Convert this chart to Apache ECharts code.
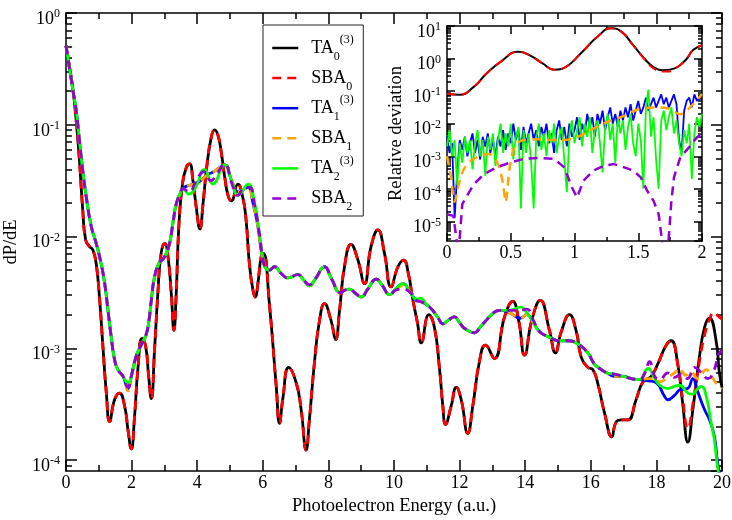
<!DOCTYPE html>
<html>
<head>
<meta charset="utf-8">
<script src="https://cdn.jsdelivr.net/npm/echarts@6/dist/echarts.min.js"></script>
<style>html,body{margin:0;padding:0;background:#fff}#c{width:732px;height:520px}</style>
</head>
<body>
<div id="c"></div>
<script>
// ---------- main panel data: [energy, dP/dE] ----------
const ta0 = [[0,0.51],[0.1,0.34],[0.21,0.21],[0.31,0.11],[0.41,0.048],[0.51,0.0174],[0.6,9.33e-3],[0.72,8.13e-3],[0.82,7.59e-3],[0.92,5.75e-3],[1.02,2.88e-3],[1.12,1.10e-3],[1.23,3.98e-4],[1.33,2.21e-4],[1.48,3.47e-4],[1.63,3.98e-4],[1.79,3.02e-4],[1.89,1.86e-4],[1.99,1.26e-4],[2.09,2.45e-4],[2.19,6.46e-4],[2.32,1.23e-3],[2.43,1.04e-3],[2.52,5.62e-4],[2.6,3.55e-4],[2.7,9.77e-4],[2.8,3.09e-3],[2.9,7.08e-3],[3.01,8.71e-3],[3.11,6.61e-3],[3.21,3.09e-3],[3.29,1.45e-3],[3.36,3.09e-3],[3.44,1.23e-2],[3.55,2.95e-2],[3.67,4.17e-2],[3.77,4.47e-2],[3.87,3.16e-2],[3.98,1.74e-2],[4.08,1.17e-2],[4.18,2.0e-2],[4.29,4.17e-2],[4.43,7.76e-2],[4.53,9.0e-2],[4.64,7.94e-2],[4.74,5.5e-2],[4.84,3.39e-2],[4.94,2.34e-2],[5.04,2.09e-2],[5.24,2.95e-2],[5.39,2.24e-2],[5.49,1.41e-2],[5.59,5.75e-3],[5.7,3.31e-3],[5.77,2.88e-3],[5.85,3.8e-3],[5.95,6.61e-3],[6.02,7.08e-3],[6.2,2.51e-3],[6.41,4.57e-4],[6.51,2.14e-4],[6.61,3.55e-4],[6.79,6.76e-4],[7.02,4.9e-4],[7.17,2.82e-4],[7.32,1.23e-4],[7.42,2.29e-4],[7.58,7.76e-4],[7.73,1.78e-3],[7.88,2.51e-3],[8.08,1.78e-3],[8.22,1.2e-3],[8.34,2.19e-3],[8.49,5.37e-3],[8.69,8.51e-3],[8.9,6.17e-3],[9.1,3.8e-3],[9.3,8.13e-3],[9.51,1.15e-2],[9.71,7.08e-3],[9.91,3.55e-3],[10.12,5.37e-3],[10.29,6.17e-3],[10.45,4.47e-3],[10.56,2.88e-3],[10.72,1.66e-3],[10.83,1.12e-3],[11.06,2.0e-3],[11.23,1.55e-3],[11.39,6.46e-4],[11.49,3.02e-4],[11.57,2.09e-4],[11.74,3.02e-4],[11.9,4.47e-4],[12.05,3.47e-4],[12.25,1.74e-4],[12.4,3.02e-4],[12.61,7.76e-4],[12.79,1.07e-3],[13.06,8.13e-4],[13.37,1.91e-3],[13.62,2.63e-3],[13.8,1.78e-3],[13.98,8.71e-4],[14.2,1.78e-3],[14.46,2.69e-3],[14.74,1.45e-3],[14.92,9.12e-4],[15.1,1.41e-3],[15.35,2.0e-3],[15.55,1.45e-3],[15.71,8.32e-4],[15.91,6.76e-4],[16.06,6.46e-4],[16.21,4.9e-4],[16.42,2.63e-4],[16.64,1.62e-4],[16.77,2.19e-4],[16.93,2.29e-4],[17.13,2.29e-4],[17.38,3.47e-4],[17.59,5.01e-4],[17.84,5.62e-4],[18.04,7.24e-4],[18.3,1.07e-3],[18.45,1.17e-3],[18.65,7.24e-4],[18.8,3.24e-4],[18.96,1.45e-4],[19.11,2.82e-4],[19.31,8.32e-4],[19.47,1.55e-3],[19.62,1.86e-3],[19.82,1.17e-3],[19.92,6.03e-4],[20,4.47e-4]];

const sba0 = [[0,0.51],[0.1,0.34],[0.21,0.21],[0.31,0.11],[0.41,0.048],[0.51,0.0174],[0.6,9.33e-3],[0.72,8.13e-3],[0.82,7.59e-3],[0.92,5.75e-3],[1.02,2.88e-3],[1.12,1.10e-3],[1.23,3.98e-4],[1.33,2.21e-4],[1.48,3.47e-4],[1.63,3.98e-4],[1.79,3.02e-4],[1.89,1.86e-4],[1.99,1.26e-4],[2.09,2.45e-4],[2.19,6.46e-4],[2.32,1.23e-3],[2.43,1.04e-3],[2.52,5.62e-4],[2.6,3.55e-4],[2.7,9.77e-4],[2.8,3.09e-3],[2.9,7.08e-3],[3.01,8.71e-3],[3.11,6.61e-3],[3.21,3.09e-3],[3.29,1.45e-3],[3.36,3.09e-3],[3.44,1.23e-2],[3.55,2.95e-2],[3.67,4.17e-2],[3.77,4.47e-2],[3.87,3.16e-2],[3.98,1.74e-2],[4.08,1.17e-2],[4.18,2.0e-2],[4.29,4.17e-2],[4.43,7.76e-2],[4.53,9.0e-2],[4.64,7.94e-2],[4.74,5.5e-2],[4.84,3.39e-2],[4.94,2.34e-2],[5.04,2.09e-2],[5.24,2.95e-2],[5.39,2.24e-2],[5.49,1.41e-2],[5.59,5.75e-3],[5.7,3.31e-3],[5.77,2.88e-3],[5.85,3.8e-3],[5.95,6.61e-3],[6.02,7.08e-3],[6.2,2.51e-3],[6.41,4.57e-4],[6.51,2.14e-4],[6.61,3.55e-4],[6.79,6.76e-4],[7.02,4.9e-4],[7.17,2.82e-4],[7.32,1.23e-4],[7.42,2.29e-4],[7.58,7.76e-4],[7.73,1.78e-3],[7.88,2.51e-3],[8.08,1.78e-3],[8.22,1.2e-3],[8.34,2.19e-3],[8.49,5.37e-3],[8.69,8.51e-3],[8.9,6.17e-3],[9.1,3.8e-3],[9.3,8.13e-3],[9.51,1.15e-2],[9.71,7.08e-3],[9.91,3.55e-3],[10.12,5.37e-3],[10.29,6.17e-3],[10.45,4.47e-3],[10.56,2.88e-3],[10.72,1.66e-3],[10.83,1.12e-3],[11.06,2.0e-3],[11.23,1.55e-3],[11.39,6.46e-4],[11.49,3.02e-4],[11.57,2.09e-4],[11.74,3.02e-4],[11.9,4.47e-4],[12.05,3.47e-4],[12.25,1.74e-4],[12.4,3.02e-4],[12.61,7.76e-4],[12.79,1.07e-3],[13.06,8.13e-4],[13.37,1.91e-3],[13.62,2.63e-3],[13.8,1.78e-3],[13.98,8.71e-4],[14.2,1.78e-3],[14.46,2.69e-3],[14.74,1.45e-3],[14.92,9.12e-4],[15.1,1.41e-3],[15.35,2.0e-3],[15.55,1.45e-3],[15.71,8.32e-4],[15.91,6.76e-4],[16.06,6.46e-4],[16.21,4.9e-4],[16.42,2.63e-4],[16.64,1.62e-4],[16.77,2.19e-4],[16.93,2.29e-4],[17.13,2.29e-4],[17.38,3.47e-4],[17.59,5.01e-4],[17.84,5.62e-4],[18.04,7.24e-4],[18.3,1.07e-3],[18.45,1.17e-3],[18.65,7.24e-4],[18.8,3.55e-4],[18.96,1.91e-4],[19.11,3.16e-4],[19.31,7.59e-4],[19.47,1.32e-3],[19.62,1.82e-3],[19.75,2.09e-3],[19.88,1.95e-3],[20,1.82e-3]];

const ta1 = [[0,0.51],[0.21,0.204],[0.31,0.135],[0.41,7.24e-2],[0.51,3.89e-2],[0.62,2.24e-2],[0.77,1.23e-2],[0.92,8.71e-3],[1.07,5.75e-3],[1.18,3.8e-3],[1.28,2.19e-3],[1.38,1.26e-3],[1.48,7.94e-4],[1.58,6.46e-4],[1.74,5.62e-4],[1.89,4.37e-4],[1.99,5.62e-4],[2.14,8.51e-4],[2.29,1.07e-3],[2.44,1.32e-3],[2.53,1.78e-3],[2.6,2.69e-3],[2.7,4.37e-3],[2.83,5.75e-3],[2.96,6.31e-3],[3.06,7.08e-3],[3.16,8.71e-3],[3.26,1.32e-2],[3.36,1.95e-2],[3.47,2.4e-2],[3.57,2.69e-2],[3.67,2.82e-2],[3.9,2.95e-2],[4.1,3.16e-2],[4.3,3.55e-2],[4.5,3.8e-2],[4.7,4.17e-2],[4.85,4.37e-2],[5.05,3.16e-2],[5.25,2.51e-2],[5.4,2.63e-2],[5.55,2.75e-2],[5.7,2.0e-2],[5.85,1.23e-2],[5.95,7.59e-3],[6.05,5.5e-3],[6.2,5.01e-3],[6.36,5.37e-3],[6.56,4.68e-3],[6.76,4.27e-3],[7.07,4.57e-3],[7.25,4.07e-3],[7.42,3.63e-3],[7.6,4.17e-3],[7.88,5.37e-3],[8.1,4.17e-3],[8.36,3.16e-3],[8.5,3.31e-3],[8.64,3.39e-3],[8.8,3.16e-3],[9.0,2.88e-3],[9.2,3.39e-3],[9.46,4.17e-3],[9.65,3.63e-3],[9.87,3.02e-3],[10.05,3.39e-3],[10.27,3.8e-3],[10.5,3.16e-3],[10.68,2.69e-3],[10.8,2.63e-3],[11.0,2.45e-3],[11.18,2.19e-3],[11.35,1.86e-3],[11.49,1.66e-3],[11.65,1.78e-3],[11.84,1.91e-3],[12.0,1.70e-3],[12.15,1.51e-3],[12.45,1.38e-3],[12.65,1.58e-3],[12.81,1.78e-3],[13.0,2.04e-3],[13.22,2.19e-3],[13.52,2.09e-3],[13.85,1.86e-3],[14.05,2.0e-3],[14.25,1.70e-3],[14.44,1.41e-3],[14.74,1.26e-3],[15.05,1.17e-3],[15.3,1.17e-3],[15.6,1.10e-3],[15.91,9.12e-4],[16.11,7.24e-4],[16.32,6.46e-4],[16.5,6.03e-4],[16.72,5.62e-4],[17.0,5.62e-4],[17.23,5.37e-4],[17.48,5.25e-4],[17.75,5.13e-4],[18.0,4.9e-4],[18.25,3.72e-4],[18.35,3.47e-4],[18.55,3.8e-4],[18.73,4.27e-4],[18.95,4.37e-4],[19.11,5.37e-4],[19.25,4.17e-4],[19.47,2.82e-4],[19.62,2.29e-4],[19.77,1.62e-4],[19.87,9.33e-5],[20,6.3e-5]];

const sba1 = [[0,0.51],[0.21,0.204],[0.31,0.135],[0.41,7.24e-2],[0.51,3.89e-2],[0.62,2.24e-2],[0.77,1.23e-2],[0.92,8.71e-3],[1.07,5.75e-3],[1.18,3.8e-3],[1.28,2.19e-3],[1.38,1.26e-3],[1.48,7.94e-4],[1.58,6.46e-4],[1.74,5.62e-4],[1.89,4.17e-4],[1.99,5.62e-4],[2.14,8.51e-4],[2.29,1.07e-3],[2.44,1.32e-3],[2.53,1.78e-3],[2.6,2.69e-3],[2.7,4.37e-3],[2.83,5.75e-3],[2.96,6.31e-3],[3.06,7.08e-3],[3.16,8.71e-3],[3.26,1.32e-2],[3.36,1.95e-2],[3.47,2.4e-2],[3.57,2.69e-2],[3.67,2.82e-2],[3.9,2.95e-2],[4.1,3.16e-2],[4.3,3.55e-2],[4.5,3.8e-2],[4.7,4.17e-2],[4.85,4.37e-2],[5.05,3.16e-2],[5.25,2.51e-2],[5.4,2.63e-2],[5.55,2.75e-2],[5.7,2.0e-2],[5.85,1.23e-2],[5.95,7.59e-3],[6.05,5.5e-3],[6.2,5.01e-3],[6.36,5.37e-3],[6.56,4.68e-3],[6.76,4.27e-3],[7.07,4.57e-3],[7.25,4.07e-3],[7.42,3.63e-3],[7.6,4.17e-3],[7.88,5.37e-3],[8.1,4.17e-3],[8.36,3.16e-3],[8.5,3.31e-3],[8.64,3.39e-3],[8.8,3.16e-3],[9.0,2.88e-3],[9.2,3.39e-3],[9.46,4.17e-3],[9.65,3.63e-3],[9.87,3.02e-3],[10.05,3.39e-3],[10.27,3.63e-3],[10.5,3.16e-3],[10.68,2.69e-3],[10.8,2.63e-3],[11.0,2.45e-3],[11.18,2.19e-3],[11.35,1.86e-3],[11.49,1.66e-3],[11.65,1.78e-3],[11.84,1.91e-3],[12.0,1.70e-3],[12.15,1.51e-3],[12.45,1.38e-3],[12.65,1.58e-3],[12.81,1.78e-3],[13.0,2.04e-3],[13.22,2.19e-3],[13.52,2.09e-3],[13.85,1.86e-3],[14.05,2.0e-3],[14.25,1.70e-3],[14.44,1.41e-3],[14.74,1.26e-3],[15.05,1.17e-3],[15.3,1.17e-3],[15.6,1.10e-3],[15.91,9.12e-4],[16.11,7.24e-4],[16.32,6.46e-4],[16.5,6.03e-4],[16.72,5.62e-4],[17.0,5.62e-4],[17.23,5.37e-4],[17.48,5.25e-4],[17.75,5.37e-4],[18.0,5.37e-4],[18.1,5.01e-4],[18.35,5.5e-4],[18.55,6.03e-4],[18.7,6.61e-4],[18.9,5.75e-4],[19.05,6.17e-4],[19.25,5.37e-4],[19.52,6.46e-4],[19.7,5.5e-4],[19.87,4.68e-4],[20,4.37e-4]];

const ta2 = [[0,0.51],[0.21,0.204],[0.31,0.135],[0.41,7.24e-2],[0.51,3.89e-2],[0.62,2.24e-2],[0.77,1.23e-2],[0.92,8.71e-3],[1.07,5.75e-3],[1.18,3.8e-3],[1.28,2.19e-3],[1.38,1.26e-3],[1.48,7.94e-4],[1.58,6.46e-4],[1.74,5.62e-4],[1.89,4.9e-4],[1.99,5.62e-4],[2.14,8.51e-4],[2.29,1.07e-3],[2.44,1.32e-3],[2.53,1.78e-3],[2.6,2.69e-3],[2.7,4.37e-3],[2.83,5.75e-3],[2.96,6.31e-3],[3.06,7.08e-3],[3.16,8.71e-3],[3.26,1.32e-2],[3.36,1.95e-2],[3.47,2.4e-2],[3.57,2.69e-2],[3.75,2.4e-2],[3.95,2.75e-2],[4.22,3.98e-2],[4.48,2.95e-2],[4.83,4.37e-2],[5.05,3.16e-2],[5.25,2.34e-2],[5.55,2.95e-2],[5.75,2.0e-2],[5.9,1.05e-2],[6.05,5.5e-3],[6.2,5.01e-3],[6.36,5.37e-3],[6.56,4.68e-3],[6.76,4.27e-3],[7.07,4.57e-3],[7.25,4.07e-3],[7.42,3.63e-3],[7.6,4.17e-3],[7.88,5.37e-3],[8.1,4.17e-3],[8.36,3.16e-3],[8.5,3.31e-3],[8.64,3.39e-3],[8.8,3.16e-3],[9.0,2.88e-3],[9.2,3.39e-3],[9.46,4.17e-3],[9.65,3.63e-3],[9.87,3.02e-3],[10.05,3.39e-3],[10.27,3.8e-3],[10.5,3.16e-3],[10.68,2.75e-3],[10.8,2.82e-3],[11.0,2.45e-3],[11.18,2.19e-3],[11.35,1.86e-3],[11.49,1.66e-3],[11.65,1.78e-3],[11.84,1.91e-3],[12.0,1.70e-3],[12.15,1.51e-3],[12.45,1.38e-3],[12.65,1.58e-3],[12.81,1.78e-3],[13.0,2.04e-3],[13.22,2.19e-3],[13.52,2.19e-3],[13.85,2.34e-3],[14.05,2.09e-3],[14.25,1.70e-3],[14.44,1.41e-3],[14.74,1.26e-3],[15.05,1.17e-3],[15.3,1.17e-3],[15.6,1.10e-3],[15.91,9.12e-4],[16.11,7.24e-4],[16.32,6.46e-4],[16.5,6.03e-4],[16.72,5.89e-4],[17.0,5.62e-4],[17.23,5.37e-4],[17.48,5.25e-4],[17.74,6.61e-4],[17.95,5.37e-4],[18.1,4.68e-4],[18.35,4.37e-4],[18.55,4.57e-4],[18.7,4.68e-4],[18.96,3.98e-4],[19.1,3.89e-4],[19.23,4.27e-4],[19.37,4.57e-4],[19.52,3.72e-4],[19.67,2.14e-4],[19.77,1.51e-4],[19.85,9.33e-5],[19.95,6.3e-5]];

const sba2 = [[0,0.51],[0.21,0.204],[0.31,0.135],[0.41,7.24e-2],[0.51,3.89e-2],[0.62,2.24e-2],[0.77,1.23e-2],[0.92,8.71e-3],[1.07,5.75e-3],[1.18,3.8e-3],[1.28,2.19e-3],[1.38,1.26e-3],[1.48,7.94e-4],[1.58,6.46e-4],[1.74,5.62e-4],[1.89,4.47e-4],[1.99,5.62e-4],[2.14,8.51e-4],[2.29,1.07e-3],[2.44,1.32e-3],[2.53,1.78e-3],[2.6,2.69e-3],[2.7,4.37e-3],[2.83,5.75e-3],[2.96,6.31e-3],[3.06,7.08e-3],[3.16,8.71e-3],[3.26,1.32e-2],[3.36,1.95e-2],[3.47,2.4e-2],[3.57,2.69e-2],[3.75,2.51e-2],[3.97,3.16e-2],[4.2,3.8e-2],[4.42,3.16e-2],[4.6,3.63e-2],[4.84,4.47e-2],[5.05,3.02e-2],[5.24,2.34e-2],[5.45,2.75e-2],[5.6,2.75e-2],[5.75,1.91e-2],[5.9,1.05e-2],[6.05,5.5e-3],[6.2,5.01e-3],[6.36,5.37e-3],[6.56,4.68e-3],[6.76,4.27e-3],[7.07,4.57e-3],[7.25,4.07e-3],[7.42,3.72e-3],[7.6,4.17e-3],[7.88,5.37e-3],[8.1,4.17e-3],[8.36,3.16e-3],[8.5,3.31e-3],[8.64,3.39e-3],[8.8,3.16e-3],[9.0,2.88e-3],[9.2,3.39e-3],[9.46,4.17e-3],[9.65,3.63e-3],[9.87,3.02e-3],[10.05,3.31e-3],[10.27,3.39e-3],[10.5,3.16e-3],[10.68,2.69e-3],[10.8,2.63e-3],[11.0,2.45e-3],[11.18,2.19e-3],[11.35,1.86e-3],[11.49,1.66e-3],[11.65,1.78e-3],[11.84,1.91e-3],[12.0,1.70e-3],[12.15,1.51e-3],[12.45,1.38e-3],[12.65,1.58e-3],[12.81,1.78e-3],[13.0,2.04e-3],[13.22,2.19e-3],[13.52,2.19e-3],[13.85,2.19e-3],[14.05,2.24e-3],[14.25,1.78e-3],[14.44,1.41e-3],[14.74,1.26e-3],[15.05,1.17e-3],[15.3,1.17e-3],[15.6,1.10e-3],[15.91,9.12e-4],[16.11,7.24e-4],[16.32,6.46e-4],[16.5,6.03e-4],[16.72,5.89e-4],[17.0,5.62e-4],[17.23,5.37e-4],[17.48,5.25e-4],[17.65,6.03e-4],[17.79,7.59e-4],[17.95,5.62e-4],[18.1,5.25e-4],[18.35,6.03e-4],[18.55,5.5e-4],[18.75,5.89e-4],[18.95,5.37e-4],[19.16,6.76e-4],[19.35,6.17e-4],[19.57,5.37e-4],[19.75,6.31e-4],[19.9,8.91e-4],[20,9.55e-4]];

// ---------- inset data: relative deviation ----------
const devTA0 = [[0,0.083],[0.1,0.078],[0.21,0.135],[0.31,0.347],[0.42,0.794],[0.56,1.62],[0.65,1.26],[0.75,0.708],[0.84,0.457],[0.93,0.55],[1.05,1.45],[1.18,4.68],[1.29,8.51],[1.37,6.61],[1.46,2.57],[1.56,0.891],[1.62,0.55],[1.69,0.437],[1.78,0.49],[1.87,0.891],[1.93,1.82],[2.0,2.57]];
const devSBA0 = [[0,0.083],[0.1,0.078],[0.21,0.135],[0.31,0.347],[0.42,0.794],[0.56,1.62],[0.65,1.26],[0.75,0.708],[0.84,0.457],[0.93,0.55],[1.05,1.45],[1.18,4.68],[1.29,8.51],[1.37,6.61],[1.46,2.57],[1.56,0.851],[1.62,0.50],[1.69,0.398],[1.73,0.40],[1.78,0.468],[1.87,0.891],[1.93,1.82],[2.0,2.57]];
const devX = [0,0.02,0.04,0.06,0.08,0.1,0.12,0.14,0.16,0.18,0.2,0.22,0.24,0.26,0.28,0.3,0.32,0.34,0.36,0.38,0.4,0.42,0.44,0.46,0.48,0.5,0.52,0.54,0.56,0.58,0.6,0.62,0.64,0.66,0.68,0.7,0.72,0.74,0.76,0.78,0.8,0.82,0.84,0.86,0.88,0.9,0.92,0.94,0.96,0.98,1,1.02,1.04,1.06,1.08,1.1,1.12,1.14,1.16,1.18,1.2,1.22,1.24,1.26,1.28,1.3,1.32,1.34,1.36,1.38,1.4,1.42,1.44,1.46,1.48,1.5,1.52,1.54,1.56,1.58,1.6,1.62,1.64,1.66,1.68,1.7,1.72,1.74,1.76,1.78,1.8,1.82,1.84,1.86,1.88,1.9,1.92,1.94,1.96,1.98,2];
const devTA1 = [0.00398,0.00126,0.00251,1.26e-5,3.16e-4,0.00316,0.00158,0.00398,0.001,0.00251,0.00501,0.00126,0.00316,7.94e-4,0.00398,0.002,0.00501,0.00126,0.00316,0.001,0.00398,0.002,0.00631,0.00158,0.00501,0.00251,0.01,0.00316,0.00631,0.00158,0.00794,0.00251,0.00501,0.01,0.00316,0.00631,0.002,0.00794,0.00398,0.01,0.00251,0.00501,0.00126,0.00631,0.0126,0.00316,0.00794,0.002,0.01,0.00398,0.00631,0.0158,0.00316,0.01,0.00501,0.02,0.00794,0.0158,0.00398,0.02,0.01,0.0251,0.00631,0.0158,0.0316,0.01,0.02,0.00794,0.0251,0.0126,0.0316,0.0158,0.0398,0.0126,0.0251,0.0501,0.02,0.0316,0.0631,0.0251,0.0398,0.0631,0.0316,0.0501,0.0794,0.0398,0.0631,0.0316,0.0501,0.0794,0.0398,0.00316,0.00126,0.0251,0.0501,0.0631,0.0316,0.0794,0.0501,0.0631,0.0794];
const devTA2 = [0.002,0.00631,0.001,0.00316,1.26e-4,0.00251,6.31e-4,0.00398,0.00126,0.00316,3.98e-4,0.00251,0.00631,0.001,0.00316,2.51e-4,0.00398,0.00158,0.00501,5.01e-4,0.00316,0.01,0.00126,0.00501,0.002,0.01,7.94e-4,0.00398,0.00794,2.51e-5,0.00631,0.00126,0.00501,6.31e-4,2.51e-5,0.00398,0.01,0.00158,0.00501,0.001,0.00631,0.00251,0.01,0.00126,0.00398,0.00794,7.94e-4,7.94e-5,0.00501,0.0126,0.00251,0.00631,0.0158,0.002,0.01,0.00398,0.0158,0.00126,0.00631,0.0126,0.00251,3.16e-4,0.00794,0.02,0.00316,0.01,6.31e-4,0.0158,0.00501,0.0126,0.00158,0.00794,0.02,0.00251,0.001,0.01,0.00316,1e-4,0.0316,0.112,0.00398,0.0158,7.94e-4,1e-4,0.0126,0.0251,0.00631,0.0158,0.0316,0.00501,0.0126,0.00251,0.001,0.00631,0.00251,0.01,2e-4,0.00501,0.0158,0.00794,0.02];
const devSBA1 = [[0,0.001],[0.03,2.51e-4],[0.06,3.98e-5],[0.09,1.26e-4],[0.14,4.57e-4],[0.23,9.33e-4],[0.33,1.17e-3],[0.4,5.75e-4],[0.44,1.38e-4],[0.46,3.98e-5],[0.49,3.98e-4],[0.53,2e-3],[0.6,3.16e-3],[0.7,3.31e-3],[0.8,3.16e-3],[0.9,3.16e-3],[1.0,3.55e-3],[1.1,5.62e-3],[1.25,0.011],[1.39,0.0174],[1.49,0.0269],[1.62,0.0316],[1.73,0.0295],[1.83,0.0195],[1.93,0.0398],[2.0,0.0813]];
const devSBA2 = [[0,1.66e-5],[0.05,1.48e-5],[0.09,1e-6],[0.12,3.39e-5],[0.21,1.38e-4],[0.29,2.82e-4],[0.39,4.57e-4],[0.5,6.46e-4],[0.6,8.32e-4],[0.73,8.91e-4],[0.84,8.32e-4],[0.92,4.57e-4],[0.98,1.1e-4],[1.02,5.37e-5],[1.07,1.78e-4],[1.15,3.63e-4],[1.23,5.13e-4],[1.31,5.75e-4],[1.39,4.57e-4],[1.46,3.63e-4],[1.52,2.24e-4],[1.57,8.71e-5],[1.62,4.27e-5],[1.66,1.66e-5],[1.7,1e-6],[1.73,1e-6],[1.76,4.27e-5],[1.78,2.24e-4],[1.83,9.33e-4],[1.9,1.91e-3],[1.96,3.8e-3],[2.0,4.9e-3]];

// ---------- tick values ----------
const mainMinorTicks = [9e-5,2e-4,3e-4,4e-4,5e-4,6e-4,7e-4,8e-4,9e-4,2e-3,3e-3,4e-3,5e-3,6e-3,7e-3,8e-3,9e-3,2e-2,3e-2,4e-2,5e-2,6e-2,7e-2,8e-2,9e-2,0.2,0.3,0.4,0.5,0.6,0.7,0.8,0.9];
const insetMinorTicks = [3e-6,4e-6,5e-6,6e-6,7e-6,8e-6,9e-6,2e-5,3e-5,4e-5,5e-5,6e-5,7e-5,8e-5,9e-5,2e-4,3e-4,4e-4,5e-4,6e-4,7e-4,8e-4,9e-4,2e-3,3e-3,4e-3,5e-3,6e-3,7e-3,8e-3,9e-3,2e-2,3e-2,4e-2,5e-2,6e-2,7e-2,8e-2,9e-2,0.2,0.3,0.4,0.5,0.6,0.7,0.8,0.9,2,3,4,5,6,7,8,9];
const legendNames = ['TA0','SBA0','TA1','SBA1','TA2','SBA2'];
const legendLabels = {TA0:'{b|TA}{sub|0}{sup|(3)}',SBA0:'{b|SBA}{sub|0}{sup| }',TA1:'{b|TA}{sub|1}{sup|(3)}',SBA1:'{b|SBA}{sub|1}{sup| }',TA2:'{b|TA}{sub|2}{sup|(3)}',SBA2:'{b|SBA}{sub|2}{sup| }'};

const F = 'Liberation Serif';
const BLK = '#000';
const DASH = [9,6];

function powLabel(v){
  const e = Math.log10(v), r = Math.round(e);
  if (Math.abs(e - r) > 1e-6) return '';
  return '{b|10}{s|' + r + '}';
}
const powRich = {
  b:{fontSize:18,fontFamily:F,color:BLK},
  s:{fontSize:12,fontFamily:F,color:BLK,padding:[0,0,10,0]}
};
const lineSty = {color:BLK,width:1.5};

function xAx(grid,pos,min,max,interval,major,minor,labels,extra){
  return Object.assign({
    type:'value',gridIndex:grid,position:pos,min:min,max:max,interval:interval,
    axisLine:{show:true,onZero:false,lineStyle:lineSty},
    axisTick:{show:true,inside:true,length:major,lineStyle:lineSty},
    minorTick:{show:true,splitNumber:2,length:minor,lineStyle:lineSty},
    axisLabel:{show:labels,fontSize:18,fontFamily:F,color:BLK,margin:3,formatter:function(v){return String(v);}},
    splitLine:{show:false},minorSplitLine:{show:false}
  },extra||{});
}
function yAx(grid,pos,min,max,len,custom,labels,showLine,extra){
  const tick = {show:true,inside:true,length:len,lineStyle:lineSty};
  if (custom) tick.customValues = custom;
  return Object.assign({
    type:'log',logBase:10,gridIndex:grid,position:pos,min:min,max:max,
    axisLine:{show:showLine,onZero:false,lineStyle:lineSty},
    axisTick:tick,
    axisLabel:{show:labels,formatter:powLabel,rich:powRich,padding:[12,0,0,0],margin:6,showMinLabel:false},
    splitLine:{show:false},minorTick:{show:false}
  },extra||{});
}
const nameSty = {fontSize:18.5,fontFamily:F,color:BLK};

function line(name,data,color,width,dash,xi,yi,smooth){
  return {name:name,type:'line',xAxisIndex:xi,yAxisIndex:yi,data:data,symbol:'none',showSymbol:false,
    smooth:smooth,color:color,lineStyle:{color:color,width:width,type:dash||'solid'},
    emphasis:{disabled:true},animation:false,clip:true};
}
function pairs(xs,ys){ return xs.map(function(x,i){return [x,ys[i]];}); }

const option = {
  animation:false,
  backgroundColor:'#fff',
  grid:[
    {left:66,top:13,width:656,height:458,outerBoundsMode:'none',containLabel:false},
    {left:447,top:26,width:255,height:215,show:true,backgroundColor:'#fff',borderWidth:0,outerBoundsMode:'none',containLabel:false}
  ],
  xAxis:[
    xAx(0,'bottom',0,20,2,11,6,true,{name:'Photoelectron Energy (a.u.)',nameLocation:'middle',nameGap:23,nameTextStyle:nameSty}),
    xAx(0,'top',0,20,2,11,6,false),
    xAx(1,'bottom',0,2,0.5,8,4,true),
    xAx(1,'top',0,2,0.5,8,4,false)
  ],
  yAxis:[
    yAx(0,'left',8e-5,1,11,null,true,true,{name:'dP/dE',nameLocation:'middle',nameGap:41,nameTextStyle:nameSty}),
    yAx(0,'left',8e-5,1,6,mainMinorTicks,false,false),
    yAx(0,'right',8e-5,1,11,null,false,true),
    yAx(0,'right',8e-5,1,6,mainMinorTicks,false,false),
    yAx(1,'left',2.5e-6,10,8,null,true,true,{name:'Relative deviation',nameLocation:'middle',nameGap:41,nameTextStyle:nameSty}),
    yAx(1,'left',2.5e-6,10,4,insetMinorTicks,false,false),
    yAx(1,'right',2.5e-6,10,8,null,false,true),
    yAx(1,'right',2.5e-6,10,4,insetMinorTicks,false,false)
  ],
  legend:{
    data:legendNames,orient:'vertical',left:263,top:25,padding:[9,8,3,8],
    itemWidth:26,itemHeight:14,itemGap:1.6,
    borderColor:'#222',borderWidth:1,backgroundColor:'#fff',borderRadius:0,
    itemStyle:{opacity:0,borderWidth:0},
    lineStyle:{width:2.5},
    formatter:function(n){return legendLabels[n];},
    textStyle:{color:BLK,fontFamily:F,rich:{
      b:{fontSize:18,fontFamily:F,color:BLK,padding:[0,0,0,8]},
      sub:{fontSize:12,fontFamily:F,color:BLK,padding:[17,0,0,0]},
      sup:{fontSize:12,fontFamily:F,color:BLK,padding:[0,0,16,0]}
    }},
    selectedMode:false
  },
  series:[
    line('TA0',ta0,'#000000',2.8,null,0,0,true),
    line('SBA0',sba0,'#ff0000',2.8,DASH,0,0,true),
    line('TA1',ta1,'#0000ff',2.8,null,0,0,true),
    line('SBA1',sba1,'#ffa500',2.8,DASH,0,0,true),
    line('TA2',ta2,'#00ff00',2.8,null,0,0,true),
    line('SBA2',sba2,'#9400d3',2.8,DASH,0,0,true),
    line('dev TA0',devTA0,'#000000',2,null,2,4,true),
    line('dev SBA0',devSBA0,'#ff0000',2,DASH,2,4,true),
    line('dev TA1',pairs(devX,devTA1),'#0000ff',1.8,null,2,4,false),
    line('dev TA2',pairs(devX,devTA2),'#00ff00',1.8,null,2,4,false),
    line('dev SBA1',devSBA1,'#ffa500',2.5,DASH,2,4,0.3),
    line('dev SBA2',devSBA2,'#9400d3',2.5,DASH,2,4,false)
  ]
};
const chart = echarts.init(document.getElementById('c'),null,{renderer:'canvas'});
chart.setOption(option);
</script>
</body>
</html>
